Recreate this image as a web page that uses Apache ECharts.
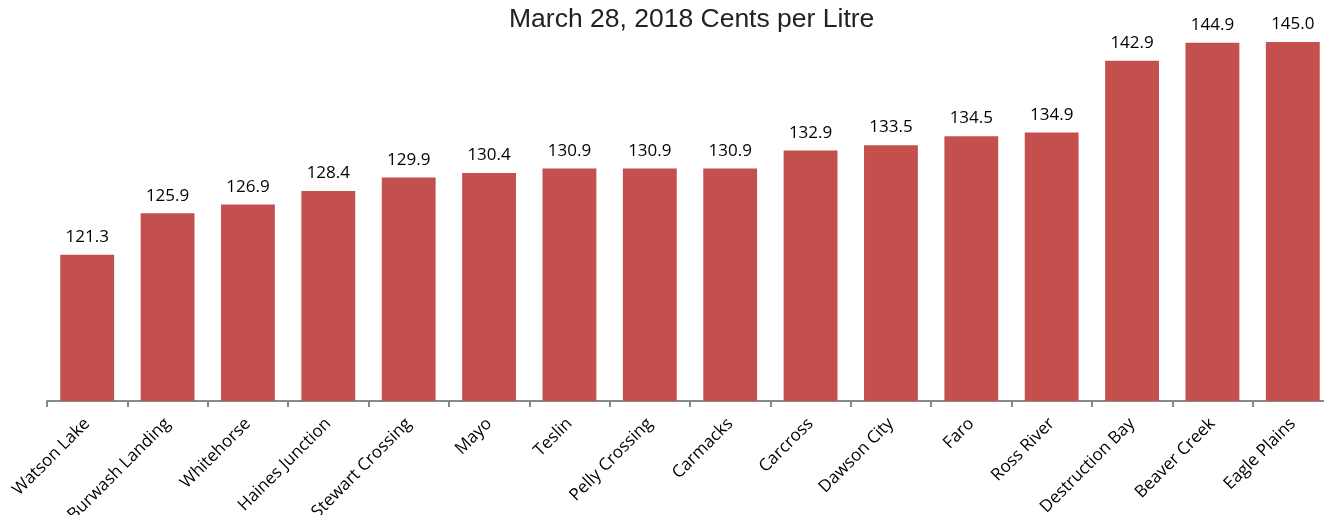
<!DOCTYPE html>
<html>
<head>
<meta charset="utf-8">
<script src="https://cdn.jsdelivr.net/npm/echarts@6/dist/echarts.min.js"></script>
<style>html,body{margin:0;padding:0;background:#fff;}#c{width:1324px;height:515px;}</style>
</head>
<body>
<div id="c"></div>
<script>
const categories = ["Watson Lake","Burwash Landing","Whitehorse","Haines Junction","Stewart Crossing","Mayo","Teslin","Pelly Crossing","Carmacks","Carcross","Dawson City","Faro","Ross River","Destruction Bay","Beaver Creek","Eagle Plains"];
const prices = [121.3,125.9,126.9,128.4,129.9,130.4,130.9,130.9,130.9,132.9,133.5,134.5,134.9,142.9,144.9,145.0];
const titleText = "March 28, 2018 Cents per Litre";

const chart = echarts.init(document.getElementById('c'));
chart.setOption({
  animation: false,
  backgroundColor: '#ffffff',
  title: {
    text: titleText,
    left: 504,
    top: 1,
    textStyle: {fontFamily: 'Liberation Sans', fontSize: 26.5, fontWeight: 'normal', color: '#222'}
  },
  grid: {left: 47, width: 1286, top: -3, bottom: 114, containLabel: false, outerBoundsMode: 'none'},
  xAxis: {
    type: 'category',
    data: categories,
    axisLine: {lineStyle: {color: '#898989', width: 2}},
    axisTick: {show: true, alignWithLabel: false, length: 6, lineStyle: {color: '#898989', width: 2}},
    axisLabel: {rotate: 45, interval: 0, fontFamily: 'Open Sans', fontSize: 17, color: '#000', margin: 20}
  },
  yAxis: {
    type: 'value',
    min: 105,
    max: 150,
    show: false,
    splitLine: {show: false}
  },
  series: [{
    type: 'bar',
    data: prices,
    barCategoryGap: '33%',
    itemStyle: {color: '#C4504E'},
    label: {
      show: true,
      position: 'top',
      distance: 9,
      formatter: p => p.value.toFixed(1),
      fontFamily: 'Open Sans',
      fontSize: 17,
      color: '#000'
    }
  }]
});
</script>
</body>
</html>
